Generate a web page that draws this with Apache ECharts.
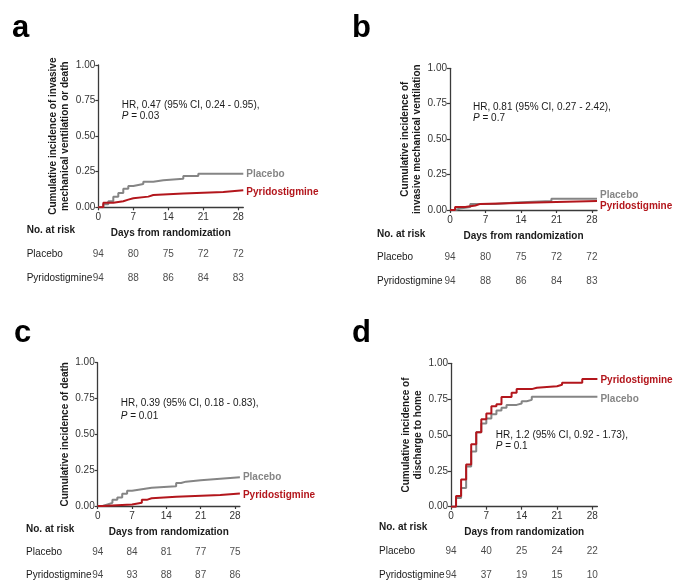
<!DOCTYPE html>
<html><head><meta charset="utf-8">
<script src="https://cdn.jsdelivr.net/npm/echarts@6/dist/echarts.min.js"></script>
<style>html,body{margin:0;padding:0;background:#fff}#c{width:685px;height:587px}</style>
</head><body><div id="c"></div>
<script>
// ---------- data ----------
const tickDays = [0, 7, 14, 21, 28];
const groups = ['Placebo', 'Pyridostigmine'];

// a: invasive mechanical ventilation or death
const aPlaceboDays = [0, 1, 2, 3, 4, 5, 6, 7, 9, 11, 13, 17, 20, 29];
const aPlaceboInc  = [0, 0.021, 0.043, 0.075, 0.10, 0.13, 0.15, 0.163, 0.18, 0.19, 0.20, 0.22, 0.235, 0.235];
const aPyrDays = [0, 1, 3, 5, 6, 7, 10, 11, 17, 25, 29];
const aPyrInc  = [0, 0.032, 0.043, 0.054, 0.064, 0.075, 0.086, 0.097, 0.108, 0.119, 0.119];
const aRiskPlacebo = [94, 80, 75, 72, 72];
const aRiskPyr     = [94, 88, 86, 84, 83];

// b: invasive mechanical ventilation
const bPlaceboDays = [0, 1, 2, 4, 9, 13, 20, 29];
const bPlaceboInc  = [0, 0.011, 0.021, 0.043, 0.053, 0.064, 0.08, 0.08];
const bPyrDays = [0, 1, 3, 5, 6, 17, 29];
const bPyrInc  = [0, 0.021, 0.032, 0.043, 0.053, 0.064, 0.064];
const bRiskPlacebo = [94, 80, 75, 72, 72];
const bRiskPyr     = [94, 88, 86, 84, 83];

// c: death
const cPlaceboDays = [0, 1, 2, 3, 4, 5, 6, 7, 9, 11, 16, 17, 18, 21, 25, 29];
const cPlaceboInc  = [0, 0.011, 0.022, 0.043, 0.06, 0.085, 0.106, 0.117, 0.128, 0.138, 0.16, 0.17, 0.18, 0.19, 0.2, 0.2];
const cPyrDays = [0, 1, 7, 9, 10, 11, 16, 25, 29];
const cPyrInc  = [0, 0.011, 0.022, 0.043, 0.054, 0.065, 0.076, 0.087, 0.087];
const cRiskPlacebo = [94, 84, 81, 77, 75];
const cRiskPyr     = [94, 93, 88, 87, 86];

// d: discharge to home
const dPlaceboDays = [0, 1, 2, 3, 4, 5, 6, 7, 8, 9, 10, 11, 13, 14, 15, 16, 29];
const dPlaceboInc  = [0, 0.06, 0.13, 0.28, 0.385, 0.52, 0.58, 0.615, 0.645, 0.67, 0.69, 0.71, 0.72, 0.735, 0.745, 0.767, 0.767];
const dPyrDays = [0, 1, 2, 3, 4, 5, 6, 7, 8, 9, 10, 12, 13, 16, 17, 21, 22, 26, 29];
const dPyrInc  = [0, 0.075, 0.19, 0.295, 0.435, 0.52, 0.61, 0.65, 0.70, 0.715, 0.765, 0.795, 0.82, 0.83, 0.84, 0.85, 0.865, 0.89, 0.89];
const dRiskPlacebo = [94, 40, 25, 24, 22];
const dRiskPyr     = [94, 37, 19, 15, 10];

const yNames = {
  a: 'Cumulative incidence of invasive\nmechanical ventilation or death',
  b: 'Cumulative incidence of\ninvasive mechanical ventilation',
  c: 'Cumulative incidence of death',
  d: 'Cumulative incidence of\ndischarge to home'
};
const hrTexts = {
  a: ['HR, 0.47 (95% CI, 0.24 - 0.95),', '0.03'],
  b: ['HR, 0.81 (95% CI, 0.27 - 2.42),', '0.7'],
  c: ['HR, 0.39 (95% CI, 0.18 - 0.83),', '0.01'],
  d: ['HR, 1.2 (95% CI, 0.92 - 1.73),', '0.1']
};

// ---------- layout / style ----------
const FONT = '"Liberation Sans", Arial, Helvetica, sans-serif';
const GRAY = '#858585', RED = '#b3161c', AX = '#3a3a3a', TXT = '#1a1a1a';
const zip = (xs, ys) => xs.map((x, i) => [x, ys[i]]);

const panels = [
  { key: 'a', left: 98.3, top: 65, width: 145, height: 142.3, nameGap: 21,
    letter: [12, 13], hr: [121.7, 105, 116.7], risk: { top: 242, h: 48, labelX: 26.7, noY: 230.7 },
    plc: zip(aPlaceboDays, aPlaceboInc), pyr: zip(aPyrDays, aPyrInc), rp: aRiskPlacebo, ry: aRiskPyr,
    offP: 0, offY: 1.5 },
  { key: 'b', left: 450, top: 68.3, width: 147, height: 141.7, nameGap: 22,
    letter: [352, 13], hr: [473, 107.3, 118.3], risk: { top: 246, h: 46.6, labelX: 377, noY: 234 },
    plc: zip(bPlaceboDays, bPlaceboInc), pyr: zip(bPyrDays, bPyrInc), rp: bRiskPlacebo, ry: bRiskPyr,
    offP: -3, offY: 5 },
  { key: 'c', left: 97.7, top: 362.7, width: 142.2, height: 143.3, nameGap: 23,
    letter: [14, 318], hr: [120.7, 403.3, 416], risk: { top: 540.6, h: 46.8, labelX: 26, noY: 529 },
    plc: zip(cPlaceboDays, cPlaceboInc), pyr: zip(cPyrDays, cPyrInc), rp: cRiskPlacebo, ry: cRiskPyr,
    offP: 0, offY: 1.5 },
  { key: 'd', left: 451, top: 363.3, width: 146.4, height: 143.4, nameGap: 20,
    letter: [352, 318], hr: [495.7, 435, 446.5], risk: { top: 540, h: 46.6, labelX: 379, noY: 527.7 },
    plc: zip(dPlaceboDays, dPlaceboInc), pyr: zip(dPyrDays, dPyrInc), rp: dRiskPlacebo, ry: dRiskPyr,
    offP: 2.5, offY: 1.5 }
];

const grid = [], xAxis = [], yAxis = [], series = [], graphic = [];

panels.forEach((p, i) => {
  const gi = i * 2, ti = i * 2 + 1;
  grid.push({ left: p.left, top: p.top, width: p.width, height: p.height });
  grid.push({ left: p.left, top: p.risk.top, width: p.width, height: p.risk.h });

  xAxis.push({
    type: 'value', gridIndex: gi, min: 0, max: 29,
    name: 'Days from randomization', nameLocation: 'middle', nameGap: 21,
    nameTextStyle: { fontFamily: FONT, fontSize: 10, fontWeight: 'bold', color: TXT },
    axisLine: { show: true, lineStyle: { color: AX, width: 1.3 } },
    axisTick: { show: true, length: 3, lineStyle: { color: AX, width: 1.2 }, customValues: tickDays },
    axisLabel: { fontFamily: FONT, fontSize: 10, color: '#333', margin: 5, customValues: tickDays },
    splitLine: { show: false }
  });
  xAxis.push({ type: 'value', gridIndex: ti, min: 0, max: 29, show: false });

  yAxis.push({
    type: 'value', gridIndex: gi, min: 0, max: 1, interval: 0.25,
    name: yNames[p.key], nameLocation: 'middle', nameRotate: 90, nameGap: p.nameGap,
    nameTextStyle: { fontFamily: FONT, fontSize: 10, fontWeight: 'bold', color: TXT, lineHeight: 12.5 },
    axisLine: { show: true, lineStyle: { color: AX, width: 1.3 } },
    axisTick: { show: true, length: 3, lineStyle: { color: AX, width: 1.2 } },
    axisLabel: { fontFamily: FONT, fontSize: 10, color: '#333', margin: 3, formatter: v => v.toFixed(2) },
    splitLine: { show: false }
  });
  yAxis.push({
    type: 'category', gridIndex: ti, data: groups, inverse: true,
    axisLine: { show: false }, axisTick: { show: false }, splitLine: { show: false },
    axisLabel: { fontFamily: FONT, fontSize: 10, color: TXT, align: 'left', margin: p.left - p.risk.labelX }
  });

  const mk = (name, data, color, off, z) => ({
    type: 'line', name, xAxisIndex: gi, yAxisIndex: gi, data, step: 'end',
    showSymbol: false, symbol: 'none', z,
    lineStyle: { color, width: 2 },
    endLabel: { show: true, formatter: '{a}', distance: 3, offset: [0, off],
      fontFamily: FONT, fontSize: 10, fontWeight: 'bold', color }
  });
  series.push(mk('Placebo', p.plc, GRAY, p.offP, 2));
  series.push(mk('Pyridostigmine', p.pyr, RED, p.offY, 3));

  const riskData = [];
  tickDays.forEach((d, k) => {
    riskData.push([d, 'Placebo', p.rp[k]]);
    riskData.push([d, 'Pyridostigmine', p.ry[k]]);
  });
  series.push({
    type: 'scatter', xAxisIndex: ti, yAxisIndex: ti, data: riskData, symbolSize: 1,
    itemStyle: { color: 'rgba(0,0,0,0)' }, silent: true,
    encode: { x: 0, y: 1 },
    label: { show: true, position: 'inside', formatter: q => String(q.value[2]),
      fontFamily: FONT, fontSize: 10, color: TXT }
  });

  graphic.push({ type: 'text', left: p.letter[0], top: p.letter[1],
    style: { text: p.key, font: 'bold 31px ' + FONT, fill: '#000' } });
  graphic.push({ type: 'text', x: p.hr[0], y: p.hr[1],
    style: { text: hrTexts[p.key][0], fontFamily: FONT, fontSize: 10, fill: TXT, verticalAlign: 'middle' } });
  graphic.push({ type: 'text', x: p.hr[0], y: p.hr[2],
    style: { text: '{i|P} = ' + hrTexts[p.key][1], fontFamily: FONT, fontSize: 10, fill: TXT, verticalAlign: 'middle',
      rich: { i: { fontStyle: 'italic', fontFamily: FONT, fontSize: 10, fill: TXT } } } });
  graphic.push({ type: 'text', x: p.risk.labelX, y: p.risk.noY,
    style: { text: 'No. at risk', fontFamily: FONT, fontSize: 10, fontWeight: 'bold', fill: TXT, verticalAlign: 'middle' } });
});

const chart = echarts.init(document.getElementById('c'), null, { renderer: 'canvas' });
chart.setOption({
  animation: false,
  backgroundColor: '#fff',
  textStyle: { fontFamily: FONT },
  grid, xAxis, yAxis, series, graphic
});
</script></body></html>
